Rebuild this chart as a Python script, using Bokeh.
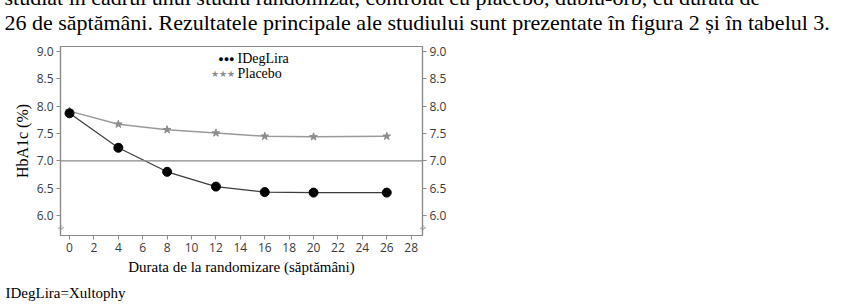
from bokeh.plotting import figure
from bokeh.models import Label, Span, LinearAxis, Range1d, FixedTicker, CustomJSTickFormatter
from bokeh.embed import file_html
from bokeh.resources import INLINE

# HbA1c over time, IDegLira vs placebo
weeks = [0, 4, 8, 12, 16, 20, 26]
ideglira = [7.87, 7.24, 6.80, 6.53, 6.43, 6.42, 6.42]
placebo = [7.91, 7.67, 7.57, 7.51, 7.45, 7.44, 7.45]
series_names = ["IDegLira", "Placebo"]
x_ticks = list(range(0, 29, 2))
y_ticks = [6.0, 6.5, 7.0, 7.5, 8.0, 8.5, 9.0]
reference_level = 7.0
body_lines = [
    "studiat în cadrul unui studiu randomizat, controlat cu placebo, dublu-orb, cu durata de",
    "26 de săptămâni. Rezultatele principale ale studiului sunt prezentate în figura 2 și în tabelul 3.",
]
footnote = "IDegLira=Xultophy"

W, H = 849, 307
# frame edges in canvas pixels
LEFT, RIGHT, TOP, BOTTOM = 60, 422, 46, 235
X0, X1 = -0.74, 28.93
Y0, Y1 = 5.636, 9.091

AXIS_GREY = "#8a8a8a"
TICK_FONT = "Open Sans"
SERIF = "Liberation Serif"

p = figure(width=W, height=H, output_backend="svg", toolbar_location=None,
           x_range=Range1d(X0, X1), y_range=Range1d(Y0, Y1),
           min_border_left=LEFT, min_border_right=W - RIGHT,
           min_border_top=TOP, min_border_bottom=H - BOTTOM,
           x_axis_location=None, y_axis_location=None)
p.grid.visible = False
p.outline_line_color = AXIS_GREY
p.outline_line_width = 1.2


def px_x(px):
    return X0 + (px - LEFT) * (X1 - X0) / (RIGHT - LEFT)


def px_y(py):
    return Y1 - (py - TOP) * (Y1 - Y0) / (BOTTOM - TOP)


def style_axis(ax, ticks):
    ax.ticker = FixedTicker(ticks=ticks)
    ax.axis_line_color = AXIS_GREY
    ax.axis_line_width = 1.2
    ax.major_tick_line_color = AXIS_GREY
    ax.major_tick_out = 4
    ax.major_tick_in = 0
    ax.minor_tick_line_color = None
    ax.major_label_text_font = TICK_FONT
    ax.major_label_text_font_size = "12px"
    ax.major_label_text_color = "#3a3a3a"
    ax.major_label_standoff = 3
    ax.axis_label_text_font = SERIF
    ax.axis_label_text_font_style = "normal"
    ax.axis_label_text_color = "black"


bottom = LinearAxis(axis_label="Durata de la randomizare (săptămâni)")
style_axis(bottom, x_ticks)
bottom.axis_label_text_font_size = "15px"
bottom.axis_label_standoff = 4
p.add_layout(bottom, "below")

left = LinearAxis(axis_label="HbA1c (%)")
style_axis(left, y_ticks)
left.axis_label_text_font_size = "16px"
left.axis_label_standoff = 3
left.formatter = CustomJSTickFormatter(code="return tick.toFixed(1);")
p.add_layout(left, "left")

right = LinearAxis()
style_axis(right, y_ticks)
right.formatter = CustomJSTickFormatter(code="return tick.toFixed(1);")
p.add_layout(right, "right")

p.add_layout(Span(location=reference_level, dimension="width",
                  line_color=AXIS_GREY, line_width=1.3))

# series
p.line(weeks, placebo, line_color="#9a9a9a", line_width=1.5)
p.scatter(weeks, placebo, marker="star", size=8, fill_color="#8c8c8c",
          line_color="#8c8c8c")
p.line(weeks, ideglira, line_color="#3c3c3c", line_width=1.2)
p.scatter(weeks, ideglira, marker="circle", size=9, fill_color="black",
          line_color="black")

# legend
legend_rows = [("●●●", "black", 58), ("★★★", "#8c8c8c", 73)]
for name, (sym, col, py) in zip(series_names, legend_rows):
    p.add_layout(Label(x=px_x(234), y=px_y(py), text=sym, text_color=col,
                       text_font_size="9px", text_align="right",
                       text_baseline="middle"))
    p.add_layout(Label(x=px_x(237), y=px_y(py), text=name, text_color="black",
                       text_font=SERIF, text_font_size="14px",
                       text_baseline="middle"))

# Texts outside the frame live in side panels (so they are not clipped);
# each is placed in whichever panel still has room for it.
for bx in (LEFT, RIGHT):
    p.add_layout(Label(x=px_x(bx), y=px_y(227), text="=", text_color=AXIS_GREY,
                       text_font=TICK_FONT, text_font_size="11px",
                       text_align="center", text_baseline="middle",
                       angle=0.75), "right")

p.add_layout(Label(x=px_x(4), y=px_y(-3), text=body_lines[0],
                   text_font=SERIF, text_font_size="22px", text_color="black",
                   text_baseline="middle"), "below")
p.add_layout(Label(x=px_x(4), y=px_y(21.5), text=body_lines[1],
                   text_font=SERIF, text_font_size="22px", text_color="black",
                   text_baseline="middle"), "above")

p.add_layout(Label(x=px_x(5), y=px_y(292), text=footnote,
                   text_font=SERIF, text_font_size="15px", text_color="black",
                   text_baseline="middle"), "right")

open("out.html", "w").write(file_html(p, INLINE))
